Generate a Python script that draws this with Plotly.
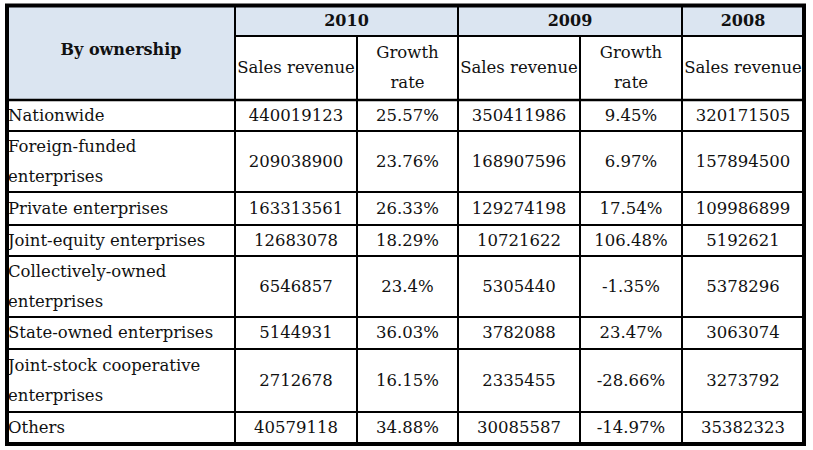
import plotly.graph_objects as go

# ---------------- data ----------------
categories = [
    "Nationwide",
    "Foreign-funded\nenterprises",
    "Private enterprises",
    "Joint-equity enterprises",
    "Collectively-owned\nenterprises",
    "State-owned enterprises",
    "Joint-stock cooperative\nenterprises",
    "Others",
]
revenue_2010 = [440019123, 209038900, 163313561, 12683078, 6546857, 5144931, 2712678, 40579118]
growth_2010 = [25.57, 23.76, 26.33, 18.29, 23.4, 36.03, 16.15, 34.88]
revenue_2009 = [350411986, 168907596, 129274198, 10721622, 5305440, 3782088, 2335455, 30085587]
growth_2009 = [9.45, 6.97, 17.54, 106.48, -1.35, 23.47, -28.66, -14.97]
revenue_2008 = [320171505, 157894500, 109986899, 5192621, 5378296, 3063074, 3273792, 35382323]

years = ["2010", "2009", "2008"]
first_header = "By ownership"
sub_headers = ["Sales revenue", "Growth\nrate", "Sales revenue", "Growth\nrate", "Sales revenue"]

# ---------------- layout geometry (style) ----------------
W, H = 813, 450
col_edges = [7, 235, 357, 458, 580, 682, 804]
top, year_bottom, head_bottom = 5.5, 36, 100
row_edges = [100, 131, 192, 225, 256, 317, 349, 412, 444]
year_spans = [(1, 3), (3, 5), (5, 6)]  # column index spans for years
line_gap = 30
FONT = "DejaVu Serif"
FS = 16.5
FS_B = 16
TXT = "#111111"
HEAD_FILL = "#dbe5f1"

fig = go.Figure()
shapes = []

# header fills
shapes.append(dict(type="rect", xref="x", yref="y", x0=col_edges[0], x1=col_edges[1], y0=top, y1=head_bottom,
                   fillcolor=HEAD_FILL, line_width=0, layer="below"))
shapes.append(dict(type="rect", xref="x", yref="y", x0=col_edges[1], x1=col_edges[-1], y0=top, y1=year_bottom,
                   fillcolor=HEAD_FILL, line_width=0, layer="below"))

def hline(x0, x1, y, w=2):
    shapes.append(dict(type="line", xref="x", yref="y", x0=x0, x1=x1, y0=y, y1=y, line=dict(color="black", width=w)))

def vline(x, y0, y1, w=2):
    shapes.append(dict(type="line", xref="x", yref="y", x0=x, x1=x, y0=y0, y1=y1, line=dict(color="black", width=w)))

# horizontal lines
hline(col_edges[1], col_edges[-1], year_bottom)
hline(col_edges[0], col_edges[-1], head_bottom, 2.5)
for y in row_edges[1:-1]:
    hline(col_edges[0], col_edges[-1], y)
# vertical lines
vline(col_edges[1], top, row_edges[-1])
for a, b in year_spans[:-1]:
    vline(col_edges[b], top, row_edges[-1])
for a, b in year_spans:
    for k in range(a + 1, b):
        vline(col_edges[k], year_bottom, row_edges[-1])
# outer border
shapes.append(dict(type="rect", xref="x", yref="y", x0=col_edges[0], x1=col_edges[-1], y0=top, y1=row_edges[-1],
                   line=dict(color="black", width=4), fillcolor="rgba(0,0,0,0)"))

def lines_pos(text, yc):
    parts = text.split("\n")
    n = len(parts)
    return [(p, yc + (i - (n - 1) / 2) * line_gap) for i, p in enumerate(parts)]

tx_c, ty_c, tt_c = [], [], []
tx_b, ty_b, tt_b = [], [], []
tx_l, ty_l, tt_l = [], [], []

# header texts
tx_b.append((col_edges[0] + col_edges[1]) / 2); ty_b.append(51); tt_b.append(first_header)
for yr, (a, b) in zip(years, year_spans):
    tx_b.append((col_edges[a] + col_edges[b]) / 2); ty_b.append((top + year_bottom) / 2 + 1); tt_b.append(yr)
for k, sh in enumerate(sub_headers):
    xc = (col_edges[k + 1] + col_edges[k + 2]) / 2
    for p, yy in lines_pos(sh, (year_bottom + head_bottom) / 2 + 1):
        tx_c.append(xc); ty_c.append(yy); tt_c.append(p)

# body
cols = [revenue_2010, growth_2010, revenue_2009, growth_2009, revenue_2008]
is_pct = [False, True, False, True, False]
for i, cat in enumerate(categories):
    yc = (row_edges[i] + row_edges[i + 1]) / 2 + 1
    for p, yy in lines_pos(cat, yc):
        tx_l.append(col_edges[0] + 1); ty_l.append(yy); tt_l.append(p)
    for k, col in enumerate(cols):
        v = col[i]
        s = f"{v:g}%" if is_pct[k] else str(v)
        tx_c.append((col_edges[k + 1] + col_edges[k + 2]) / 2); ty_c.append(yc); tt_c.append(s)

fig.add_trace(go.Scatter(x=tx_c, y=ty_c, text=tt_c, mode="text", textposition="middle center",
                         textfont=dict(family=FONT, size=FS, color=TXT), hoverinfo="skip", showlegend=False))
fig.add_trace(go.Scatter(x=tx_l, y=ty_l, text=tt_l, mode="text", textposition="middle right",
                         textfont=dict(family=FONT, size=FS, color=TXT), hoverinfo="skip", showlegend=False))
fig.add_trace(go.Scatter(x=tx_b, y=ty_b, text=[f"<b>{t}</b>" for t in tt_b], mode="text", textposition="middle center",
                         textfont=dict(family=FONT, size=FS_B, color=TXT), hoverinfo="skip", showlegend=False))

fig.update_layout(
    width=W, height=H, margin=dict(l=0, r=0, t=0, b=0),
    paper_bgcolor="white", plot_bgcolor="white",
    shapes=shapes,
    xaxis=dict(range=[0, W], visible=False, fixedrange=True),
    yaxis=dict(range=[H, 0], visible=False, fixedrange=True),
)
fig.write_html(
    "out.html",
    config={"displayModeBar": False},
    post_script="document.body.style.margin='0';document.body.style.overflow='hidden';",
)
